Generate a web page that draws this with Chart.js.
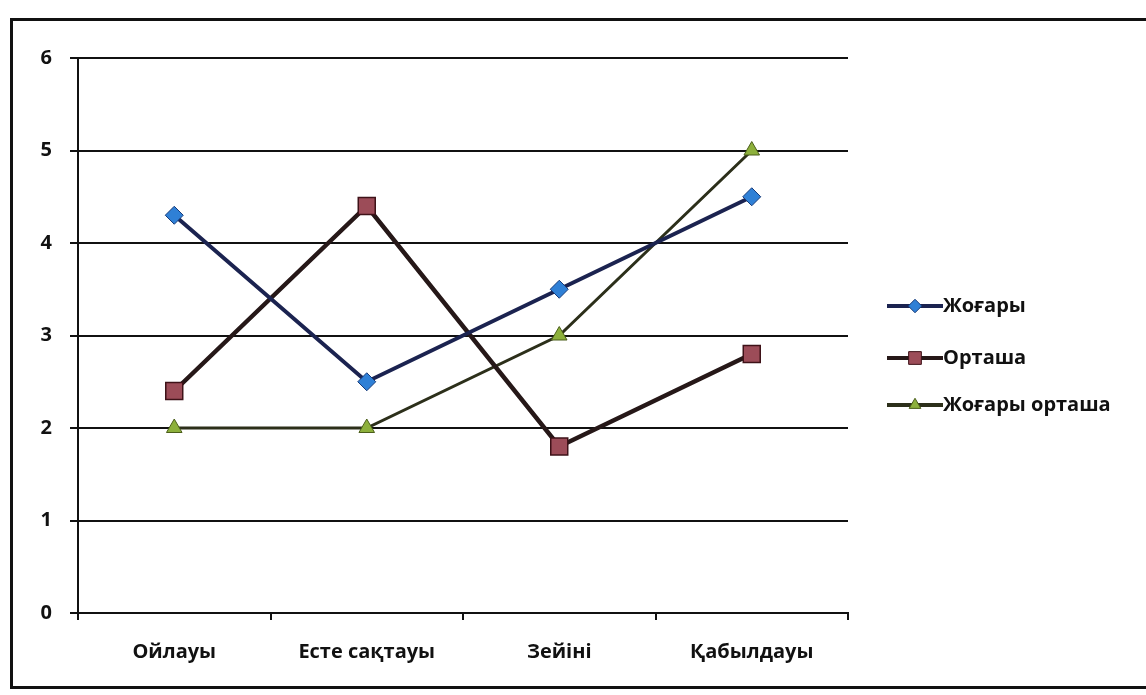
<!DOCTYPE html>
<html>
<head>
<meta charset="utf-8">
<script src="https://cdn.jsdelivr.net/npm/chart.js@4.4.1/dist/chart.umd.min.js"></script>
<style>
  html, body { margin: 0; padding: 0; background: #fff; }
  #wrap { position: relative; width: 1146px; height: 695px; overflow: hidden; }
  #frame { position: absolute; left: 10px; top: 18px; width: 1150px; height: 671px;
           border: 3px solid #111; box-sizing: border-box; }
  canvas { position: absolute; left: 0; top: 0; }
</style>
</head>
<body>
<div id="wrap">
  <div id="frame"></div>
  <canvas id="chart" width="1146" height="695"></canvas>
</div>
<script>
const categories = ['Ойлауы', 'Есте сақтауы', 'Зейіні', 'Қабылдауы'];
const seriesNames = ['Жоғары', 'Орташа', 'Жоғары орташа'];
const zhogary = [4.3, 2.5, 3.5, 4.5];
const ortasha = [2.4, 4.4, 1.8, 2.8];
const zhogaryOrtasha = [2, 2, 3, 5];
const yTicks = [0, 1, 2, 3, 4, 5, 6];

const FONT = '"Open Sans", "Noto Sans", sans-serif';

// Excel-style legend: line - marker - line, then the name
const sideLegend = {
  id: 'sideLegend',
  afterDraw(chart) {
    const ctx = chart.ctx;
    const x0 = 887, lineLen = 56;
    const ys = [306, 358, 405];
    chart.data.datasets.forEach((ds, i) => {
      const y = ys[i];
      ctx.save();
      ctx.strokeStyle = ds.borderColor;
      ctx.lineWidth = 4;
      ctx.beginPath();
      ctx.moveTo(x0, y);
      ctx.lineTo(x0 + lineLen, y);
      ctx.stroke();
      ctx.fillStyle = ds.pointBackgroundColor;
      ctx.strokeStyle = ds.pointBorderColor;
      ctx.lineWidth = 1;
      Chart.helpers.drawPoint(ctx, { pointStyle: ds.pointStyle, radius: ds.pointRadius * 0.75, borderWidth: 1 }, x0 + lineLen / 2, y);
      ctx.fillStyle = '#111';
      ctx.font = 'bold 20px ' + FONT;
      ctx.textBaseline = 'middle';
      ctx.fillText(ds.label, x0 + lineLen, y);
      ctx.restore();
    });
  }
};

new Chart(document.getElementById('chart').getContext('2d'), {
  type: 'line',
  data: {
    labels: categories,
    datasets: [
      {
        label: seriesNames[0], data: zhogary,
        borderColor: '#1b2350', borderWidth: 4,
        pointStyle: 'rectRot', pointRadius: 9,
        pointBackgroundColor: '#2f80d6', pointBorderColor: '#173a78', pointBorderWidth: 1
      },
      {
        label: seriesNames[1], data: ortasha,
        borderColor: '#261818', borderWidth: 4.5,
        pointStyle: 'rect', pointRadius: 12,
        pointBackgroundColor: '#9c4c58', pointBorderColor: '#3e1218', pointBorderWidth: 1.5
      },
      {
        label: seriesNames[2], data: zhogaryOrtasha,
        borderColor: '#2c2f1a', borderWidth: 3,
        pointStyle: 'triangle', pointRadius: 9,
        pointBackgroundColor: '#8db03c', pointBorderColor: '#4b5e1a', pointBorderWidth: 1
      }
    ]
  },
  options: {
    responsive: false,
    animation: false,
    layout: { padding: { top: 58, right: 298, bottom: 0, left: 0 } },
    plugins: { legend: { display: false }, tooltip: { enabled: false } },
    scales: {
      x: {
        offset: true,
        grid: { offset: true, drawOnChartArea: false, drawTicks: true, tickLength: 7, color: '#111', lineWidth: 2 },
        border: { color: '#111', width: 2 },
        ticks: { color: '#111', font: { family: FONT, size: 20, weight: 'bold' }, padding: 20 },
        afterFit(scale) { scale.height = 82; }
      },
      y: {
        min: 0, max: 6,
        afterBuildTicks(scale) { scale.ticks = yTicks.map(v => ({ value: v })); },
        grid: { color: '#111', lineWidth: 2, tickLength: 8 },
        border: { color: '#111', width: 2 },
        ticks: { color: '#111', font: { family: FONT, size: 20, weight: 'bold' }, padding: 18 },
        afterFit(scale) { scale.width = 78; }
      }
    }
  },
  plugins: [sideLegend]
});
</script>
</body>
</html>
